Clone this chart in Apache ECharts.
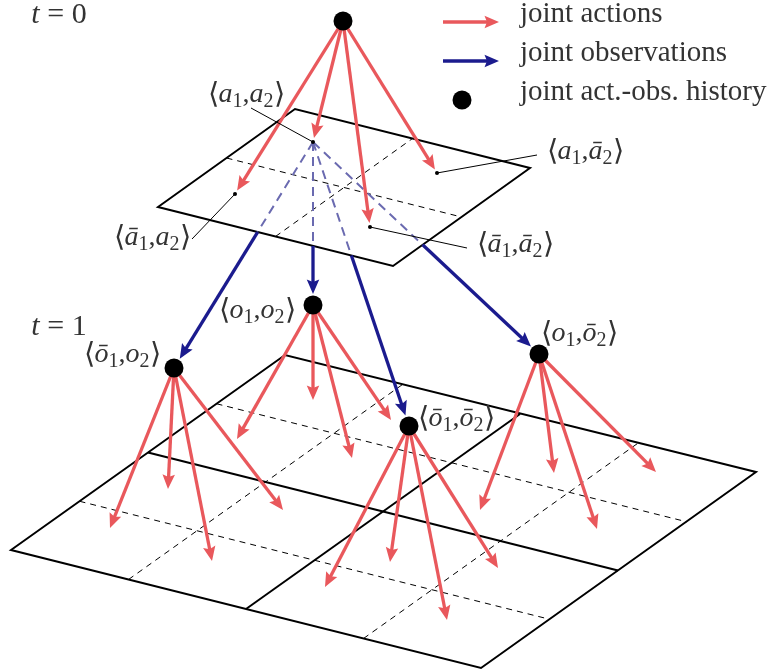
<!DOCTYPE html>
<html><head><meta charset="utf-8">
<script src="https://cdn.jsdelivr.net/npm/echarts@6/dist/echarts.min.js"></script>
<style>html,body{margin:0;padding:0;background:#fff}#c{width:774px;height:670px}</style>
</head><body><div id="c"></div>
<script>
// ---- data (diagram units, axis maps 1:1 to the 774x670 canvas) ----
const plane0Corners = [[158,207],[295,109],[530,168],[393,266]]; // L,T,R,B
const plane1Corners = [[11,550],[285,355],[756,472],[481,668]];
const plane0SolidCuts = [];
const plane0DashedCuts = [0.5];
const plane1SolidCuts = [0.5];
const plane1DashedCuts = [0.25, 0.75];

const rootNode = [343,21];
const actionPoints0 = [[313,142],[235,194],[370,227],[437,173]];
const actionLabels0 = ['a_1,a_2','ā_1,a_2','ā_1,ā_2','a_1,ā_2'];
const actionLabelPos0 = [[246,95],[152,238],[515,245],[585,152]];
const leaderStarts0 = [[251,108],[192,239],[467,248],[537,155]];

const obsNodes = [[313,305],[174,368],[409,426],[539,354]];
const obsLabels = ['o_1,o_2','ō_1,o_2','ō_1,ō_2','o_1,ō_2'];
const obsLabelPos = [[257,311],[122,355],[456,419],[579,334]];
const obsSourceIndex = 0;

const actionTargets1 = [
  [[237,439],[313,400],[352,458],[391,420]],
  [[110,528],[168,489],[212,561],[283,510]],
  [[325,587],[390,562],[447,620],[498,568]],
  [[480,510],[554,473],[597,529],[656,472]]
];

const timeLabels = ['0','1'];
const timeLabelPos = [[59,15],[59,327]];

const legendLabels = ['joint actions','joint observations','joint act.-obs. history'];
const legendKinds = ['action','observation','history'];
const legendRowY = [22,61,100];

// ---- styles ----
const RED = '#e9585c', BLUE = '#1b1b8e', BLUE_DASH = '#6a6ab0', INK = '#333333';
const NODE_R = 9.5;
const FAM = '"Liberation Serif"';
const FONTS = {
  p: '28px ' + FAM,
  b: '29px ' + FAM,
  i: 'italic 28px ' + FAM,
  t: 'italic 30px ' + FAM,
  q: '30px ' + FAM,
  s: '20px ' + FAM
};
const DY = {p: 0, b: 0, i: 0, t: 0, q: 0, s: 6.5};
function labelTokens(s) {
  const out = [['b', '⟨']];
  for (let k = 0; k < s.length; k++) {
    const ch = s[k];
    if (ch === '_') { out.push(['s', s[k+1]]); k++; }
    else if (ch === ',') out.push(['p', ',']);
    else out.push(['i', ch]);
  }
  out.push(['b', '⟩']);
  return out;
}
const measureCtx = document.createElement('canvas').getContext('2d');
function tokenWidth(t) { measureCtx.font = FONTS[t[0]]; return measureCtx.measureText(t[1]).width; }

function seg(p, q, style) {
  return {type: 'line', shape: {x1: p[0], y1: p[1], x2: q[0], y2: q[1]}, style: style};
}
function arrowEls(p0, tip, color, width) {
  const hl = 14.5, hw = 12.5, notch = 2.5;
  const dx = tip[0]-p0[0], dy = tip[1]-p0[1], L = Math.hypot(dx, dy);
  const ux = dx/L, uy = dy/L, nx = -uy, ny = ux;
  const bx = tip[0]-ux*hl, by = tip[1]-uy*hl;
  const lineEnd = [tip[0]-ux*(hl-notch-1), tip[1]-uy*(hl-notch-1)];
  return [
    seg(p0, lineEnd, {stroke: color, lineWidth: width}),
    {type: 'polygon', shape: {points: [tip, [bx+nx*hw/2, by+ny*hw/2], [bx+ux*notch, by+uy*notch], [bx-nx*hw/2, by-ny*hw/2]]},
     style: {fill: color}}
  ];
}
function shortenTo(p0, p1, d) {
  const dx = p1[0]-p0[0], dy = p1[1]-p0[1], L = Math.hypot(dx, dy);
  return [p1[0]-dx/L*d, p1[1]-dy/L*d];
}
function planePoint(c, u, v) { // c: pixel corners L,T,R,B
  const L = c[0], T = c[1], B = c[3];
  return [L[0] + u*(T[0]-L[0]) + v*(B[0]-L[0]), L[1] + u*(T[1]-L[1]) + v*(B[1]-L[1])];
}
function segIntersect(a, b, c, d) {
  const r = [b[0]-a[0], b[1]-a[1]], s = [d[0]-c[0], d[1]-c[1]];
  const den = r[0]*s[1]-r[1]*s[0];
  if (Math.abs(den) < 1e-9) return null;
  const t = ((c[0]-a[0])*s[1]-(c[1]-a[1])*s[0])/den;
  const u = ((c[0]-a[0])*r[1]-(c[1]-a[1])*r[0])/den;
  return (t > 0 && t < 1 && u >= 0 && u <= 1) ? t : null;
}

function planeRender(corners, solidCuts, dashedCuts) {
  return function (params, api) {
    const c = corners.map(p => api.coord(p));
    const kids = [];
    const thin = {stroke: '#000', lineWidth: 1, lineDash: [6,5]};
    const thick = {stroke: '#000', lineWidth: 2};
    dashedCuts.forEach(t => {
      kids.push(seg(planePoint(c, t, 0), planePoint(c, t, 1), thin));
      kids.push(seg(planePoint(c, 0, t), planePoint(c, 1, t), thin));
    });
    solidCuts.forEach(t => {
      kids.push(seg(planePoint(c, t, 0), planePoint(c, t, 1), thick));
      kids.push(seg(planePoint(c, 0, t), planePoint(c, 1, t), thick));
    });
    kids.push({type: 'polygon', shape: {points: c}, style: {fill: 'none', stroke: '#000', lineWidth: 2, lineJoin: 'miter'}});
    return {type: 'group', children: kids};
  };
}

const series = [];
series.push({type: 'custom', coordinateSystem: 'cartesian2d', clip: false, silent: true,
  data: [plane1Corners[0]], renderItem: planeRender(plane1Corners, plane1SolidCuts, plane1DashedCuts)});
series.push({type: 'custom', coordinateSystem: 'cartesian2d', clip: false, silent: true,
  data: [plane0Corners[0]], renderItem: planeRender(plane0Corners, plane0SolidCuts, plane0DashedCuts)});

// observation arrows (dashed while under the t=0 plane)
series.push({type: 'custom', coordinateSystem: 'cartesian2d', clip: false, silent: true,
  data: obsNodes.map((n, i) => [n[0], n[1], i]),
  renderItem: function (params, api) {
    const src = api.coord(actionPoints0[obsSourceIndex]);
    const node = api.coord(obsNodes[params.dataIndex]);
    const tip = shortenTo(src, node, NODE_R + 1.5);
    const c = plane0Corners.map(p => api.coord(p));
    let tx = null;
    for (let k = 0; k < 4; k++) {
      const t = segIntersect(src, tip, c[k], c[(k+1)%4]);
      if (t !== null) tx = t;
    }
    const X = [src[0] + (tip[0]-src[0])*tx, src[1] + (tip[1]-src[1])*tx];
    const kids = [seg(src, X, {stroke: BLUE_DASH, lineWidth: 2, lineDash: [9,6]})].concat(arrowEls(X, tip, BLUE, 3.3));
    return {type: 'group', children: kids};
  }});

// joint actions at t=0
series.push({type: 'custom', coordinateSystem: 'cartesian2d', clip: false, silent: true,
  data: actionPoints0.map((p, i) => [p[0], p[1], i]),
  renderItem: function (params, api) {
    const s = api.coord(rootNode), p = api.coord(actionPoints0[params.dataIndex]);
    return {type: 'group', children: arrowEls(s, shortenTo(s, p, 4), RED, 3.3)};
  }});

// joint actions at t=1
const flatTargets = [];
actionTargets1.forEach((arr, ni) => arr.forEach(t => flatTargets.push([t[0], t[1], ni])));
series.push({type: 'custom', coordinateSystem: 'cartesian2d', clip: false, silent: true,
  data: flatTargets,
  renderItem: function (params, api) {
    const d = flatTargets[params.dataIndex];
    const s = api.coord(obsNodes[d[2]]), p = api.coord([d[0], d[1]]);
    return {type: 'group', children: arrowEls(s, p, RED, 3.3)};
  }});

// leader lines + small dots
series.push({type: 'custom', coordinateSystem: 'cartesian2d', clip: false, silent: true,
  data: actionPoints0.map((p, i) => [p[0], p[1], i]),
  renderItem: function (params, api) {
    const i = params.dataIndex;
    const p = api.coord(actionPoints0[i]), q = api.coord(leaderStarts0[i]);
    return {type: 'group', children: [
      seg(q, p, {stroke: '#000', lineWidth: 1}),
      {type: 'circle', shape: {cx: p[0], cy: p[1], r: 2}, style: {fill: '#000'}}
    ]};
  }});

// history nodes
series.push({type: 'scatter', silent: true, symbol: 'circle', symbolSize: NODE_R*2,
  itemStyle: {color: '#000', opacity: 1}, data: [rootNode].concat(obsNodes)});

// legend icons
series.push({type: 'custom', coordinateSystem: 'cartesian2d', clip: false, silent: true,
  data: legendLabels.map((s, i) => [443, legendRowY[i]]),
  renderItem: function (params, api) {
    const i = params.dataIndex;
    const y = legendRowY[i];
    const a = api.coord([443, y]), b = api.coord([499, y]), m = api.coord([462, y]);
    let kids;
    if (legendKinds[i] === 'action') kids = arrowEls(a, b, RED, 3.3);
    else if (legendKinds[i] === 'observation') kids = arrowEls(a, b, BLUE, 3.3);
    else kids = [{type: 'circle', shape: {cx: m[0], cy: m[1], r: NODE_R}, style: {fill: '#000'}}];
    return {type: 'group', children: kids};
  }});

const chart = echarts.init(document.getElementById('c'), null, {renderer: 'canvas'});
chart.setOption({
  animation: false,
  backgroundColor: '#fff',
  grid: {left: 0, right: 0, top: 0, bottom: 0},
  xAxis: {type: 'value', min: 0, max: 774, show: false},
  yAxis: {type: 'value', min: 0, max: 670, inverse: true, show: false},
  series: series
});

// text (placed through the grid's scales); math labels laid out token by token
const toPx = p => chart.convertToPixel({gridIndex: 0}, p);
const graphic = [];
function placeTokens(tokens, center) {
  const p = toPx(center);
  const widths = tokens.map(tokenWidth);
  let x = p[0] - widths.reduce((a, b) => a + b, 0) / 2;
  tokens.forEach((t, k) => {
    graphic.push({type: 'text', x: x, y: p[1] + DY[t[0]], silent: true, z: 100,
      style: {text: t[1], font: FONTS[t[0]], fill: INK, align: 'left', verticalAlign: 'middle'}});
    x += widths[k];
  });
}
actionLabels0.forEach((s, i) => placeTokens(labelTokens(s), actionLabelPos0[i]));
obsLabels.forEach((s, i) => placeTokens(labelTokens(s), obsLabelPos[i]));
timeLabels.forEach((s, i) => placeTokens([['t', 't'], ['q', ' = ' + s]], timeLabelPos[i]));
legendLabels.forEach((s, i) => {
  const p = toPx([520, legendRowY[i] - 8]);
  graphic.push({type: 'text', x: p[0], y: p[1], silent: true, z: 100,
    style: {text: s, font: '29px ' + FAM, fill: INK, align: 'left', verticalAlign: 'middle'}});
});
chart.setOption({graphic: graphic});
</script></body></html>
